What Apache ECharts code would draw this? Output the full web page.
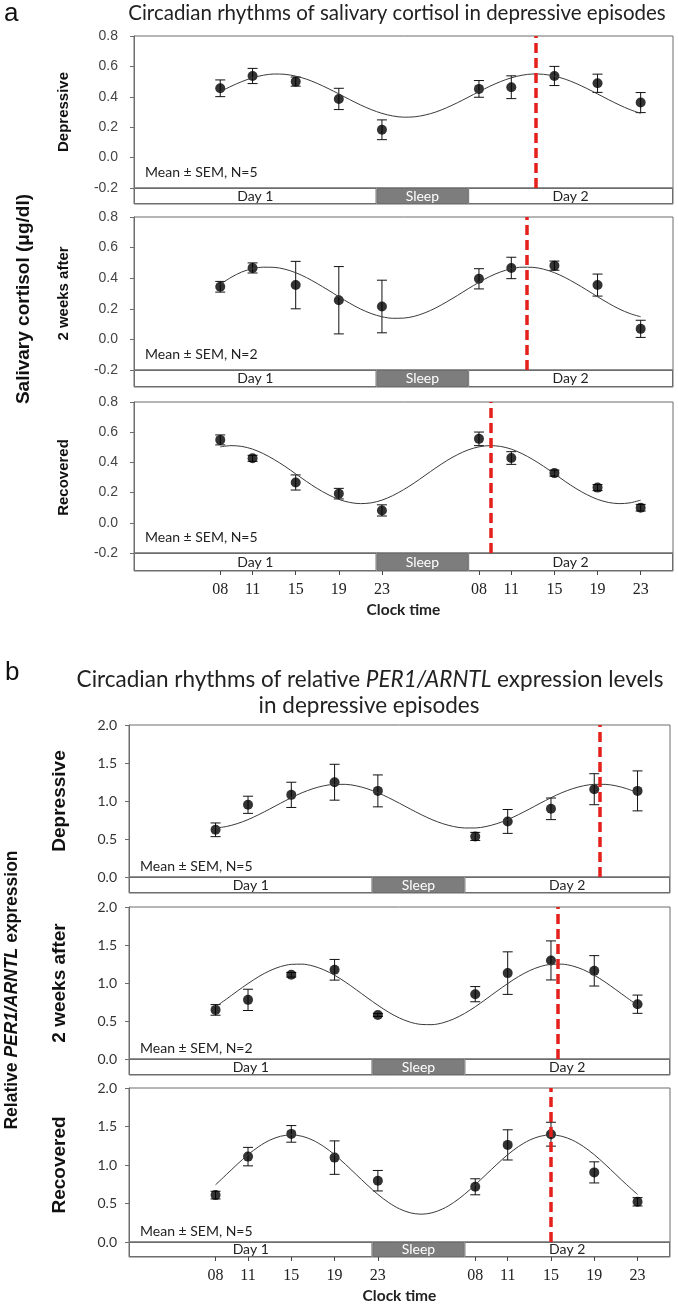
<!DOCTYPE html>
<html>
<head>
<meta charset="utf-8">
<script src="https://cdn.jsdelivr.net/npm/echarts@6/dist/echarts.min.js"></script>
<style>
  html, body { margin: 0; padding: 0; background: #fff; }
  #chart { width: 678px; height: 1305px; }
</style>
</head>
<body>
<div id="chart"></div>
<script>
// sampling clock: hours counted from 00:00 of day 1
const hours = [8, 11, 15, 19, 23, 32, 35, 39, 43, 47];
const hourLabels = ['08', '11', '15', '19', '23', '08', '11', '15', '19', '23'];
// fitted cosine curve read hourly, 08:00 day 1 .. 23:00 day 2
const fitHours = [8, 9, 10, 11, 12, 13, 14, 15, 16, 17, 18, 19, 20, 21, 22, 23, 24, 25, 26, 27,
                  28, 29, 30, 31, 32, 33, 34, 35, 36, 37, 38, 39, 40, 41, 42, 43, 44, 45, 46, 47];
const dayBlocks = ['Day 1', 'Sleep', 'Day 2'];
const dayBlockHours = [22.5, 8.5, 19];

// a: salivary cortisol (ug/dl)
const cortDepMean = [0.456, 0.537, 0.500, 0.386, 0.183, 0.452, 0.463, 0.537, 0.489, 0.362];
const cortDepSem = [0.055, 0.050, 0.030, 0.070, 0.065, 0.055, 0.075, 0.063, 0.060, 0.066];
const cortDepFit = [0.434, 0.469, 0.500, 0.525, 0.542, 0.550, 0.548, 0.536, 0.516, 0.488, 0.455, 0.419, 0.382, 0.347, 0.316, 0.291, 0.274, 0.266, 0.268, 0.280,
                    0.300, 0.328, 0.361, 0.397, 0.434, 0.469, 0.500, 0.525, 0.542, 0.550, 0.548, 0.536, 0.516, 0.488, 0.455, 0.419, 0.382, 0.347, 0.316, 0.291];
const cortDepPeak = 37.3;

const cort2wMean = [0.344, 0.467, 0.355, 0.256, 0.215, 0.396, 0.467, 0.482, 0.355, 0.069];
const cort2wSem = [0.035, 0.033, 0.155, 0.220, 0.172, 0.066, 0.070, 0.030, 0.072, 0.056];
const cort2wFit = [0.360, 0.405, 0.441, 0.462, 0.472, 0.471, 0.459, 0.436, 0.404, 0.365, 0.323, 0.279, 0.237, 0.199, 0.169, 0.148, 0.138, 0.139, 0.151, 0.174,
                   0.206, 0.245, 0.287, 0.331, 0.373, 0.411, 0.441, 0.462, 0.472, 0.471, 0.459, 0.436, 0.404, 0.365, 0.323, 0.279, 0.237, 0.199, 0.169, 0.148];
const cort2wPeak = 36.4;

const cortRecMean = [0.549, 0.427, 0.267, 0.193, 0.082, 0.556, 0.429, 0.329, 0.233, 0.100];
const cortRecSem = [0.033, 0.020, 0.050, 0.035, 0.037, 0.045, 0.042, 0.020, 0.020, 0.022];
const cortRecFit = [0.503, 0.511, 0.506, 0.488, 0.458, 0.419, 0.374, 0.324, 0.274, 0.227, 0.187, 0.155, 0.135, 0.127, 0.132, 0.150, 0.180, 0.219, 0.264, 0.314,
                    0.364, 0.411, 0.451, 0.483, 0.503, 0.511, 0.506, 0.488, 0.458, 0.419, 0.374, 0.324, 0.274, 0.227, 0.187, 0.155, 0.135, 0.127, 0.132, 0.150];
const cortRecPeak = 33.1;

// b: relative PER1/ARNTL expression
const perDepMean = [0.621, 0.950, 1.081, 1.247, 1.133, 0.534, 0.731, 0.897, 1.155, 1.133];
const perDepSem = [0.090, 0.113, 0.166, 0.236, 0.210, 0.053, 0.157, 0.142, 0.204, 0.263];
const perDepFit = [0.645, 0.664, 0.702, 0.755, 0.821, 0.894, 0.970, 1.043, 1.109, 1.162, 1.200, 1.219, 1.219, 1.200, 1.162, 1.109, 1.043, 0.970, 0.894, 0.821,
                   0.755, 0.702, 0.664, 0.645, 0.645, 0.664, 0.702, 0.755, 0.821, 0.894, 0.970, 1.043, 1.109, 1.162, 1.200, 1.219, 1.219, 1.200, 1.162, 1.109];
const perDepPeak = 43.5;

const per2wMean = [0.646, 0.778, 1.108, 1.174, 0.580, 0.853, 1.130, 1.297, 1.160, 0.721];
const per2wSem = [0.070, 0.140, 0.030, 0.136, 0.020, 0.100, 0.280, 0.257, 0.200, 0.120];
const per2wFit = [0.687, 0.788, 0.892, 0.993, 1.085, 1.161, 1.216, 1.245, 1.248, 1.224, 1.174, 1.102, 1.013, 0.912, 0.808, 0.707, 0.615, 0.539, 0.484, 0.455,
                  0.452, 0.476, 0.526, 0.598, 0.687, 0.788, 0.892, 0.993, 1.085, 1.161, 1.216, 1.245, 1.248, 1.224, 1.174, 1.102, 1.013, 0.912, 0.808, 0.707];
const per2wPeak = 39.6;

const perRecMean = [0.609, 1.109, 1.404, 1.096, 0.796, 0.717, 1.261, 1.400, 0.904, 0.522];
const perRecSem = [0.050, 0.120, 0.108, 0.217, 0.133, 0.104, 0.196, 0.155, 0.137, 0.054];
const perRecFit = [0.743, 0.876, 1.009, 1.134, 1.240, 1.322, 1.373, 1.391, 1.373, 1.322, 1.240, 1.134, 1.009, 0.876, 0.743, 0.618, 0.512, 0.430, 0.379, 0.361,
                   0.379, 0.430, 0.512, 0.618, 0.743, 0.876, 1.009, 1.134, 1.240, 1.322, 1.373, 1.391, 1.373, 1.322, 1.240, 1.134, 1.009, 0.876, 0.743, 0.618];
const perRecPeak = 39.0;

const panels = {
  a: { left: 134, right: 5, min: -0.2, max: 0.8, interval: 0.2, nameGap: 63, nameSize: 15, semGap: 15, labelMargin: 16,
       tickFont: { fontFamily: 'Liberation Sans Narrow, Liberation Sans', fontSize: 14, color: '#444' } },
  b: { left: 129, right: 8, min: 0, max: 2, interval: 0.5, nameGap: 60, nameSize: 19, semGap: 10, labelMargin: 12,
       tickFont: { fontFamily: 'Lato', fontSize: 14, color: '#333' } }
};

const subplots = [
  { panel: 'a', name: 'Depressive', mean: cortDepMean, sem: cortDepSem, fit: cortDepFit, peak: cortDepPeak, n: 5, top: 36, h: 152, barH: 16 },
  { panel: 'a', name: '2 weeks after', mean: cort2wMean, sem: cort2wSem, fit: cort2wFit, peak: cort2wPeak, n: 2, top: 217, h: 153, barH: 17 },
  { panel: 'a', name: 'Recovered', mean: cortRecMean, sem: cortRecSem, fit: cortRecFit, peak: cortRecPeak, n: 5, top: 402, h: 151, barH: 18, bottom: true },
  { panel: 'b', name: 'Depressive', mean: perDepMean, sem: perDepSem, fit: perDepFit, peak: perDepPeak, n: 5, top: 725, h: 152, barH: 16 },
  { panel: 'b', name: '2 weeks after', mean: per2wMean, sem: per2wSem, fit: per2wFit, peak: per2wPeak, n: 2, top: 907, h: 152, barH: 16 },
  { panel: 'b', name: 'Recovered', mean: perRecMean, sem: perRecSem, fit: perRecFit, peak: perRecPeak, n: 5, top: 1088, h: 154, barH: 17, bottom: true }
];

const boxColor = '#6d6d6d';

function renderErr(params, api) {
  const x = api.value(0);
  const lo = api.coord([x, api.value(1)]);
  const hi = api.coord([x, api.value(2)]);
  const w = 5;
  const st = { stroke: '#111', lineWidth: 1 };
  return {
    type: 'group',
    children: [
      { type: 'line', shape: { x1: lo[0], y1: lo[1], x2: hi[0], y2: hi[1] }, style: st },
      { type: 'line', shape: { x1: lo[0] - w, y1: lo[1], x2: lo[0] + w, y2: lo[1] }, style: st },
      { type: 'line', shape: { x1: hi[0] - w, y1: hi[1], x2: hi[0] + w, y2: hi[1] }, style: st }
    ]
  };
}

const grid = [], xAxis = [], yAxis = [], series = [], graphic = [];

subplots.forEach((sp, i) => {
  const p = panels[sp.panel];
  const gMain = 2 * i, gBar = 2 * i + 1;
  grid.push({ left: p.left, right: p.right, top: sp.top, height: sp.h, show: true, borderColor: boxColor, borderWidth: 1, backgroundColor: '#fff' });
  grid.push({ left: p.left, right: p.right, top: sp.top + sp.h, height: sp.barH, show: true, borderColor: boxColor, borderWidth: 1, backgroundColor: '#fff' });

  xAxis.push({ gridIndex: gMain, type: 'value', min: 0, max: 50, show: false });
  if (sp.bottom) {
    xAxis.push({
      gridIndex: gBar, type: 'value', min: 0, max: 50,
      axisLine: { show: false }, splitLine: { show: false },
      axisTick: { show: true, customValues: hours, length: 4, lineStyle: { color: '#444' } },
      axisLabel: { customValues: hours, formatter: v => hourLabels[hours.indexOf(v)], margin: 11,
                   fontFamily: 'Liberation Serif', fontSize: 16, color: '#222' },
      name: 'Clock time', nameLocation: 'middle', nameGap: 31,
      nameTextStyle: { fontFamily: 'Lato', fontWeight: 'bold', fontSize: 15.5, color: '#222' }
    });
  } else {
    xAxis.push({ gridIndex: gBar, type: 'value', min: 0, max: 50, show: false });
  }

  yAxis.push({
    gridIndex: gMain, type: 'value', min: p.min, max: p.max, interval: p.interval,
    axisLine: { show: true, lineStyle: { color: boxColor } },
    axisTick: { show: true, length: 4, lineStyle: { color: boxColor } },
    splitLine: { show: false },
    axisLabel: Object.assign({ formatter: v => v.toFixed(1), margin: p.labelMargin }, p.tickFont),
    name: sp.name, nameLocation: 'middle', nameRotate: 90, nameGap: p.nameGap,
    nameTextStyle: { fontFamily: 'Liberation Sans', fontWeight: 'bold', fontSize: p.nameSize, color: '#111' }
  });
  yAxis.push({ gridIndex: gBar, type: 'category', data: ['block'], show: false });

  series.push({
    type: 'line', xAxisIndex: gMain, yAxisIndex: gMain,
    data: fitHours.map((h, k) => [h, sp.fit[k]]),
    smooth: 0.3, symbol: 'none', silent: true,
    lineStyle: { color: '#3a3a3a', width: 1 }
  });
  series.push({
    type: 'custom', xAxisIndex: gMain, yAxisIndex: gMain,
    renderItem: renderErr, encode: { x: 0, y: [1, 2] },
    data: hours.map((h, k) => [h, sp.mean[k] - sp.sem[k], sp.mean[k] + sp.sem[k]])
  });
  series.push({
    type: 'scatter', xAxisIndex: gMain, yAxisIndex: gMain,
    data: hours.map((h, k) => [h, sp.mean[k]]),
    symbolSize: 10, itemStyle: { color: '#000' },
    markLine: {
      silent: true, symbol: 'none', label: { show: false },
      lineStyle: { color: '#e3201b', width: 3.5, type: [10, 5] },
      data: [{ xAxis: sp.peak }]
    }
  });

  dayBlocks.forEach((blk, k) => {
    const sleep = blk === 'Sleep';
    series.push({
      type: 'bar', name: blk, stack: 'days' + i, xAxisIndex: gBar, yAxisIndex: gBar,
      data: [dayBlockHours[k]], barWidth: '100%', silent: true,
      itemStyle: { color: sleep ? '#7d7d7d' : '#fff', borderColor: boxColor, borderWidth: 1 },
      label: { show: true, position: 'inside', formatter: blk, fontFamily: 'Lato', fontSize: 14,
               color: sleep ? '#fff' : '#222' }
    });
  });

  graphic.push({
    type: 'text', left: p.left + 11, top: sp.top + sp.h - p.semGap - 8,
    style: { text: 'Mean \u00B1 SEM, N=' + sp.n, fontFamily: 'Lato', fontSize: 14, fill: '#222' }
  });
});

graphic.push(
  { type: 'text', x: 4, y: 14, style: { text: 'a', fontFamily: 'Liberation Sans', fontSize: 26, fill: '#111', verticalAlign: 'middle' } },
  { type: 'text', x: 397, y: 13, style: { text: 'Circadian rhythms of salivary cortisol in depressive episodes', fontFamily: 'Lato', fontSize: 20.5, fill: '#222', align: 'center', verticalAlign: 'middle' } },
  { type: 'text', x: 24, y: 299, rotation: Math.PI / 2, style: { text: 'Salivary cortisol (\u03BCg/dl)', fontFamily: 'Liberation Sans', fontWeight: 'bold', fontSize: 19, fill: '#111', align: 'center', verticalAlign: 'middle' } },
  { type: 'text', x: 5, y: 673, style: { text: 'b', fontFamily: 'Liberation Sans', fontSize: 26, fill: '#111', verticalAlign: 'middle' } },
  { type: 'text', x: 370, y: 680, style: {
      text: '{n|Circadian rhythms of relative }{i|PER1/ARNTL}{n| expression levels}',
      align: 'center', verticalAlign: 'middle',
      rich: { n: { fontFamily: 'Lato', fontSize: 22.5, fill: '#222' }, i: { fontFamily: 'Lato', fontSize: 22.5, fontStyle: 'italic', fill: '#222' } } } },
  { type: 'text', x: 369, y: 706, style: { text: 'in depressive episodes', fontFamily: 'Lato', fontSize: 22.5, fill: '#222', align: 'center', verticalAlign: 'middle' } },
  { type: 'text', x: 12, y: 990, rotation: Math.PI / 2, style: {
      text: '{n|Relative }{i|PER1/ARNTL}{n| expression}',
      align: 'center', verticalAlign: 'middle',
      rich: { n: { fontFamily: 'Liberation Sans', fontWeight: 'bold', fontSize: 17.5, fill: '#111' }, i: { fontFamily: 'Liberation Sans', fontWeight: 'bold', fontStyle: 'italic', fontSize: 17.5, fill: '#111' } } } }
);

const chart = echarts.init(document.getElementById('chart'));
chart.setOption({
  animation: false,
  grid: grid,
  xAxis: xAxis,
  yAxis: yAxis,
  series: series,
  graphic: graphic
});
</script>
</body>
</html>
